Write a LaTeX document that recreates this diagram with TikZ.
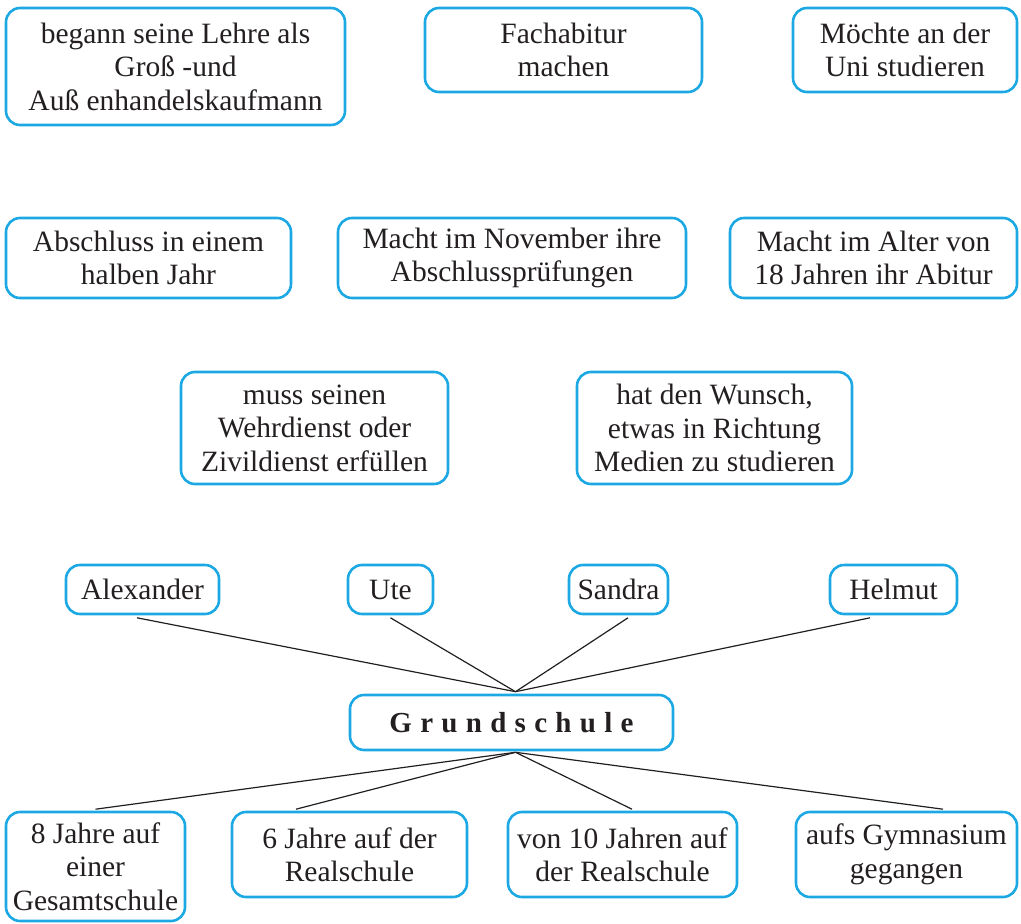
\documentclass[tikz,border=0pt]{standalone}
\usepackage{fontspec}
\setmainfont{Liberation Serif}
\usetikzlibrary{calc}
\definecolor{boxcol}{RGB}{28,168,226}
\definecolor{txt}{RGB}{35,31,32}
\newcommand\lsp{\hspace{8.3pt}}
\begin{document}
\begin{tikzpicture}[x=1pt,y=-1pt,
  box/.style={draw=boxcol, line width=2.6pt, rounded corners=14pt, align=center, inner sep=0pt, text=txt, font=\fontsize{29.5}{33.5}\selectfont},
  link/.style={draw=txt, line width=1.2pt}]
\useasboundingbox (0,0) rectangle (1021,924);
% top rows
\node[box, minimum width=339pt, minimum height=117pt] (b1) at (175.5,66.5) {begann seine Lehre als\\Groß -und\\Auß enhandelskaufmann};
\node[box, minimum width=277pt, minimum height=84pt] (b2) at (563.5,50) {Fachabitur\\machen};
\node[box, minimum width=224pt, minimum height=84pt] (b3) at (905,50) {Möchte an der\\Uni studieren};
\node[box, minimum width=285pt, minimum height=80pt] (b4) at (148.5,258) {Abschluss in einem\\halben Jahr};
\node[box, minimum width=348pt, minimum height=80pt] (b5) at (512,258) {Macht im November ihre\\Abschlussprüfungen};
\node[box, minimum width=287pt, minimum height=80pt] (b6) at (873.5,258) {Macht im Alter von\\18 Jahren ihr Abitur};
\node[box, minimum width=267pt, minimum height=112pt] (b7) at (314.5,428) {muss seinen\\Wehrdienst oder\\Zivildienst erfüllen};
\node[box, minimum width=275pt, minimum height=112pt] (b8) at (714.5,428) {hat den Wunsch,\\etwas in Richtung\\Medien zu studieren};
% names
\node[box, minimum width=153pt, minimum height=49pt] (alex) at (142.5,589.5) {Alexander};
\node[box, minimum width=85pt, minimum height=49pt] (ute) at (390.5,589.5) {Ute};
\node[box, minimum width=99pt, minimum height=49pt] (sandra) at (618.5,589.5) {Sandra};
\node[box, minimum width=127pt, minimum height=49pt] (helmut) at (893.5,589.5) {Helmut};
% centre
\node[box, minimum width=323pt, minimum height=55pt, font=\fontsize{29}{34}\selectfont\bfseries] (grund) at (511.5,722.5) {G\lsp r\lsp u\lsp n\lsp d\lsp s\lsp c\lsp h\lsp u\lsp l\lsp e};
% bottom row
\node[box, minimum width=179pt, minimum height=109pt] (ba) at (95.5,866.5) {8 Jahre auf\\einer\\Gesamtschule};
\node[box, minimum width=235pt, minimum height=85pt] (bb) at (349.5,854.5) {6 Jahre auf der\\Realschule};
\node[box, minimum width=229pt, minimum height=85pt] (bc) at (622.5,854.5) {von 10 Jahren auf\\der Realschule};
\node[box, minimum width=221pt, minimum height=85pt] (bd) at (906.5,854.5) {aufs Gymnasium\\gegangen};
% connectors
\coordinate (gtop) at ([xshift=4pt,yshift=2pt]grund.north);
\coordinate (gbot) at ([xshift=4pt,yshift=-1pt]grund.south);
\draw[link] ([xshift=-5.5pt,yshift=-2.5pt]alex.south) -- (gtop);
\draw[link] ([yshift=-2.5pt]ute.south) -- (gtop);
\draw[link] ([xshift=9.5pt,yshift=-2.5pt]sandra.south) -- (gtop);
\draw[link] ([xshift=-23.5pt,yshift=-2.5pt]helmut.south) -- (gtop);
\draw[link] (gbot) -- ([yshift=1.5pt]ba.north);
\draw[link] (gbot) -- ([xshift=-53.5pt,yshift=1.5pt]bb.north);
\draw[link] (gbot) -- ([xshift=9.5pt,yshift=1.5pt]bc.north);
\draw[link] (gbot) -- ([xshift=36.5pt,yshift=1.5pt]bd.north);
\end{tikzpicture}
\end{document}
